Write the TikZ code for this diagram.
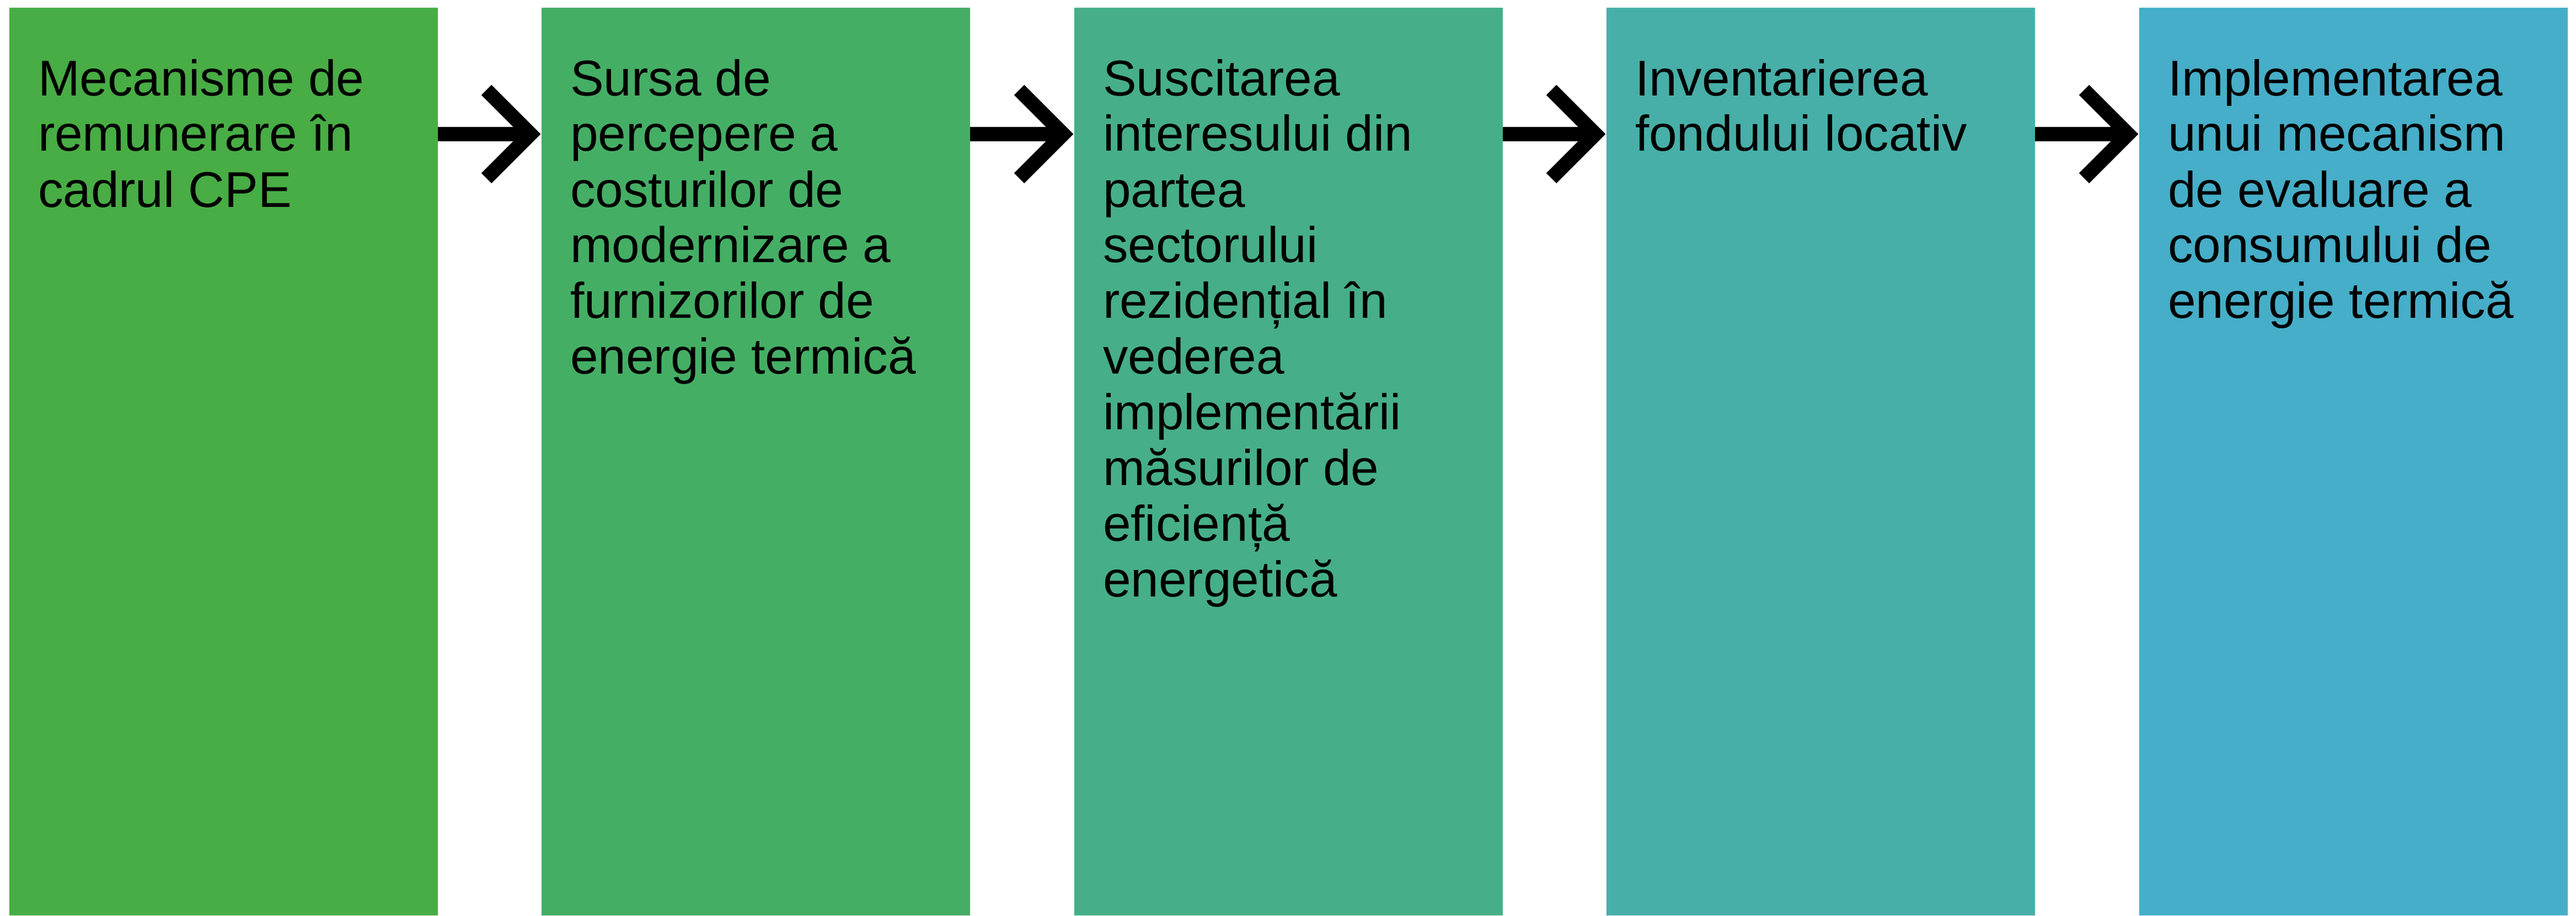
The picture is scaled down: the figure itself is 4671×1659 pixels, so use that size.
\documentclass[tikz,border=0pt]{standalone}
\usepackage{fontspec}
\setmainfont{Liberation Sans}
\definecolor{c1}{HTML}{48AD45}
\definecolor{c2}{HTML}{45AE65}
\definecolor{c3}{HTML}{46AF87}
\definecolor{c4}{HTML}{47AFA8}
\definecolor{c5}{HTML}{46AEC8}
\begin{document}
\begin{tikzpicture}[x=0.1pt,y=-0.1pt,
  box/.style={draw=none, minimum width=77.7pt, minimum height=164.5pt, anchor=north west, inner sep=0pt, outer sep=0pt},
  lbl/.style={anchor=base west, inner sep=0pt, outer sep=0pt, text=black, font=\fontsize{9.1pt}{10.1pt}\selectfont},
  shaft/.style={line width=2.6pt, draw=black},
  barb/.style={line width=2.6pt, draw=black, line join=miter, miter limit=10}]
\useasboundingbox (0,0) rectangle (4671,1659);
\node[box, fill=c1] (b1) at (17,14) {};
\node[box, fill=c2] (b2) at (982,14) {};
\node[box, fill=c3] (b3) at (1948,14) {};
\node[box, fill=c4] (b4) at (2913,14) {};
\node[box, fill=c5] (b5) at (3879,14) {};
\node[lbl] (l1) at ([shift={(52,159)}]b1.north west) {\vtop{\hbox{Mecanisme de}\hbox{remunerare în}\hbox{cadrul CPE}}};
\node[lbl] (l2) at ([shift={(52,159)}]b2.north west) {\vtop{\hbox{Sursa de}\hbox{percepere a}\hbox{costurilor de}\hbox{modernizare a}\hbox{furnizorilor de}\hbox{energie termică}}};
\node[lbl] (l3) at ([shift={(52,159)}]b3.north west) {\vtop{\hbox{Suscitarea}\hbox{interesului din}\hbox{partea}\hbox{sectorului}\hbox{rezidențial în}\hbox{vederea}\hbox{implementării}\hbox{măsurilor de}\hbox{eficiență}\hbox{energetică}}};
\node[lbl] (l4) at ([shift={(52,159)}]b4.north west) {\vtop{\hbox{Inventarierea}\hbox{fondului locativ}}};
\node[lbl] (l5) at ([shift={(52,159)}]b5.north west) {\vtop{\hbox{Implementarea}\hbox{unui mecanism}\hbox{de evaluare a}\hbox{consumului de}\hbox{energie termică}}};
\foreach \a/\b in {b1/b2,b2/b3,b3/b4,b4/b5}{
  \coordinate (v\a) at ([shift={(-20,229)}]\b.north west);
  \draw[shaft] ([shift={(0,229)}]\a.north east) -- (v\a);
  \draw[barb] ([shift={(-80,-80)}]v\a) -- (v\a) -- ([shift={(-80,80)}]v\a);
}
\end{tikzpicture}
\end{document}
